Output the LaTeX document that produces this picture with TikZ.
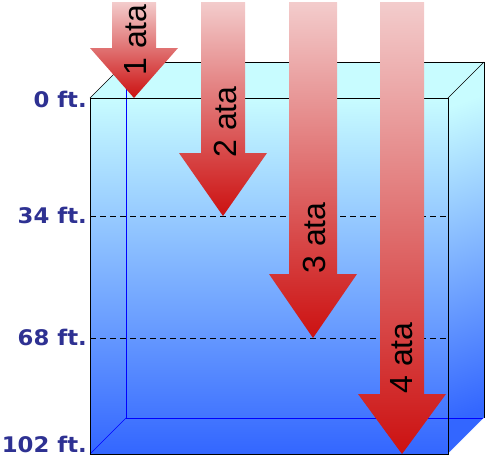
\documentclass[tikz,border=0pt]{standalone}
\usepackage{fontspec}
\setmainfont{Liberation Sans}
\newfontfamily\lblfont{DejaVu Sans}[FakeStretch=1.06]
\definecolor{wtop}{RGB}{200,252,255}
\definecolor{wbot}{RGB}{51,102,255}
\definecolor{apink}{RGB}{243,204,204}
\definecolor{ared}{RGB}{204,17,17}
\definecolor{lbl}{RGB}{46,49,146}
\definecolor{edgeblue}{RGB}{0,0,255}
\tikzset{
  blockarrow/.style={top color=apink,bottom color=ared,draw=none},
  depthlbl/.style={anchor=base east,inner sep=0pt,text=lbl,font=\lblfont\bfseries\fontsize{21.5}{24}\selectfont},
  atalbl/.style={rotate=90,anchor=base,inner sep=0pt,text=black,font=\fontsize{32}{36}\selectfont},
  frontedge/.style={draw=black,line width=1pt},
  backblue/.style={draw=edgeblue,line width=1pt},
  levelline/.style={draw=black,line width=0.9pt,dash pattern=on 6pt off 4pt}
}
\begin{document}
\begin{tikzpicture}[x=1pt,y=-1pt]
\useasboundingbox (0,0) rectangle (486,456);
% box corners
\coordinate (FTL) at (90,98);
\coordinate (FTR) at (448,98);
\coordinate (FBL) at (90,454);
\coordinate (FBR) at (448,454);
\coordinate (BTL) at (126,62);
\coordinate (BTR) at (484,62);
\coordinate (BBL) at (126,418);
\coordinate (BBR) at (484,418);
% faces
\fill[wtop] (FTL) -- (BTL) -- (BTR) -- (FTR) -- cycle;
\shade[top color=wtop,bottom color=wbot,shading angle=20] (FTR) -- (BTR) -- (BBR) -- (FBR) -- cycle;
\shade[top color=wtop,bottom color=wbot] (FTL) rectangle (FBR);
% back edges
\draw[backblue] (BTL) -- (BBL) -- (BBR);
\draw[draw=edgeblue,line width=0.6pt] (FBL) -- (BBL);
\draw[frontedge] (BTL) -- (BTR) -- (BBR);
\draw[draw=black,line width=0.5pt] (FTL) -- (BTL);
\draw[draw=black,line width=0.5pt] (FTR) -- (BTR);
\draw[draw=white,line width=0.6pt] (FBR) -- (BBR);
% front edges
\draw[frontedge] (FTL) rectangle (FBR);
% depth levels
\coordinate (L34a) at (90,216);
\coordinate (L34b) at (448,216);
\coordinate (L68a) at (90,338);
\coordinate (L68b) at (448,338);
\draw[levelline] (L34a) -- (L34b);
\draw[levelline] (L68a) -- (L68b);
\node[depthlbl] (d0) at (87,107) {0 ft.};
\node[depthlbl] (d34) at (87,223) {34 ft.};
\node[depthlbl] (d68) at (87,345) {68 ft.};
\node[depthlbl] (d102) at (87,452) {102 ft.};
% arrows
\shade[blockarrow] (112,2) -- (156,2) -- (156,48) -- (178,48) -- (134,98) -- (90,48) -- (112,48) -- cycle;
\shade[blockarrow] (201,2) -- (245,2) -- (245,153) -- (267,153) -- (223,216) -- (179,153) -- (201,153) -- cycle;
\shade[blockarrow] (289,2) -- (337,2) -- (337,274) -- (357,274) -- (313,338) -- (269,274) -- (289,274) -- cycle;
\shade[blockarrow] (380,2) -- (424,2) -- (424,394) -- (446,394) -- (402,454) -- (358,394) -- (380,394) -- cycle;
\node[atalbl] (a1) at (146,40) {1 ata};
\node[atalbl] (a2) at (236,122) {2 ata};
\node[atalbl] (a3) at (325,238) {3 ata};
\node[atalbl] (a4) at (412,358) {4 ata};
\end{tikzpicture}
\end{document}
